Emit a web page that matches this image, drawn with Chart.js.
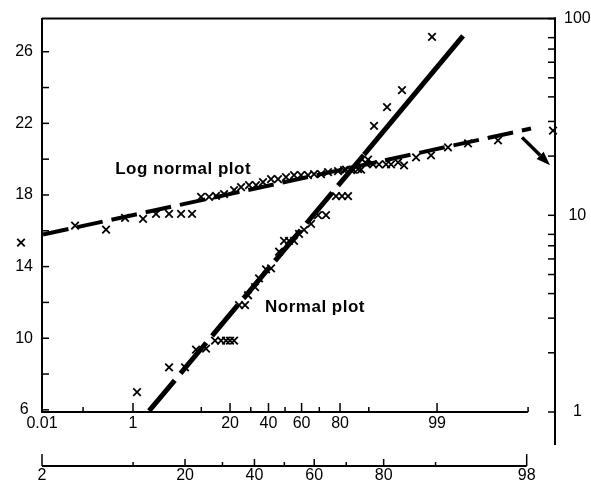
<!DOCTYPE html>
<html><head><meta charset="utf-8">
<script src="https://cdn.jsdelivr.net/npm/chart.js@4/dist/chart.umd.min.js"></script>
<style>html,body{margin:0;padding:0;background:#fff;}canvas{display:block;}</style>
</head><body>
<canvas id="c" width="591" height="480"></canvas>
<script>
// ---- data (x = standard normal score of the plotting position) ----
const probAxisMajor = [0.01, 1, 20, 40, 60, 80, 99];
const probAxisMinor = [0.1, 10, 30, 50, 70, 90];
const probAxisEnd = 99.99;
const probAxis2Major = [2, 20, 40, 60, 80, 98];
const probAxis2Minor = [10, 30, 50, 70, 90];
const leftMajor = [6, 10, 14, 18, 22, 26];
const leftMinor = [8, 12, 16, 20, 24];
const rightMajor = [1, 10, 100];
const rightMinor = [2, 3, 4, 5, 6, 7, 8, 20, 30, 40, 50, 60, 70, 80];

const normalScore = [-2.265,-1.775,-1.530,-1.362,-1.209,-1.071,-0.979,-0.903,-0.842,-0.780,-0.704,-0.612,-0.566,-0.459,-0.398,-0.291,-0.214,-0.092,-0.015,0.061,0.138,0.214,0.291,0.398,0.505,0.627,0.780,0.872,0.964,0.933,1.041,1.163,1.270,1.362,1.561,1.790,2.249];
const normalValue = [6.99,8.37,8.37,9.36,9.42,9.86,9.86,9.86,9.86,9.86,11.85,11.85,12.40,12.85,13.34,13.84,13.90,14.84,15.44,15.44,15.44,15.83,16.05,16.38,16.88,16.88,17.93,17.93,17.93,19.42,19.42,19.42,19.98,21.86,22.91,23.85,26.83];

const logScore = [-4.040,-3.213,-2.739,-2.448,-2.173,-1.974,-1.775,-1.591,-1.423,-1.285,-1.163,-1.056,-0.933,-0.780,-0.673,-0.551,-0.444,-0.337,-0.214,-0.107,0.015,0.138,0.245,0.352,0.444,0.551,0.658,0.811,0.903,1.010,1.117,1.239,1.347,1.438,1.546,1.622,1.729,1.821,2.005,2.234,2.494,2.800,3.259,4.101];
const logValue = [7.27,8.85,8.45,9.71,9.60,10.18,10.18,10.18,10.18,12.40,12.40,12.54,12.83,13.44,13.92,14.25,14.25,14.75,15.27,15.27,15.63,16.00,16.00,16.00,16.19,16.19,16.56,16.76,16.95,16.95,17.15,18.39,18.17,18.17,18.17,18.17,18.60,17.96,19.71,20.17,22.13,23.19,24.01,26.96];

const normalFitScore = [-2.081, 1.209, 2.724];
const normalFitValue = [5.94, 20.25, 26.89];
const logFitScore = [-3.703, 3.764];
const logFitValue = [7.98, 27.6];
const arrowScore = [3.627, 4.055];
const arrowValue = [24.9, 17.97];
const noteTexts = ['Log normal plot', 'Normal plot'];
const noteScore = [-2.60, -0.306];
const noteValue = [19.42, 11.74];

// ---- helpers ----
function probit(p){
 const a=[-3.969683028665376e+01,2.209460984245205e+02,-2.759285104469687e+02,1.383577518672690e+02,-3.066479806614716e+01,2.506628277459239e+00];
 const b=[-5.447609879822406e+01,1.615858368580409e+02,-1.556989798598866e+02,6.680131188771972e+01,-1.328068155288572e+01];
 const c=[-7.784894002430293e-03,-3.223964580411365e-01,-2.400758277161838e+00,-2.549732539343734e+00,4.374664141464968e+00,2.938163982698783e+00];
 const d=[7.784695709041462e-03,3.224671290700398e-01,2.445134137142996e+00,3.754408661907416e+00];
 const pl=0.02425, ph=1-pl; let q,r;
 if(p<pl){q=Math.sqrt(-2*Math.log(p));return (((((c[0]*q+c[1])*q+c[2])*q+c[3])*q+c[4])*q+c[5])/((((d[0]*q+d[1])*q+d[2])*q+d[3])*q+1);}
 if(p<=ph){q=p-0.5;r=q*q;return (((((a[0]*r+a[1])*r+a[2])*r+a[3])*r+a[4])*r+a[5])*q/(((((b[0]*r+b[1])*r+b[2])*r+b[3])*r+b[4])*r+1);}
 q=Math.sqrt(-2*Math.log(1-p));return -(((((c[0]*q+c[1])*q+c[2])*q+c[3])*q+c[4])*q+c[5])/((((d[0]*q+d[1])*q+d[2])*q+d[3])*q+1);
}
const pct = v => probit(v / 100);
const ident = v => v;
function tickBuilder(major, minor, conv){
  return scale => {
    scale.ticks = major.map(v => ({value: conv(v), major: true, raw: v}))
      .concat(minor.map(v => ({value: conv(v), major: false, raw: v})))
      .sort((p, q) => p.value - q.value);
  };
}
function tickLabel(value, index, ticks){
  const t = ticks[index];
  return t && t.major ? String(t.raw) : '';
}
const FONT = '"Liberation Sans", Arial, sans-serif';
const tickFont = {family: FONT, size: 16};
const pts = (xs, ys) => xs.map((x, i) => ({x, y: ys[i]}));

const X1_MIN = pct(0.01), X1_PX = 65.35;
const X2_MIN = pct(2), X2_PX = 118;
const AREA_W = 591 - 42 - 36;
const OUTSIDE_DATASET = 3; // log-normal points include one plotted left of the frame

const frame = {
  id: 'frame',
  beforeDatasetDraw(chart, args){
    if (args.index === OUTSIDE_DATASET) {
      this._saved = chart.chartArea;
      chart.chartArea = Object.assign({}, chart.chartArea, {left: 0, right: chart.width});
    }
  },
  afterDatasetDraw(chart, args){
    if (args.index === OUTSIDE_DATASET && this._saved) { chart.chartArea = this._saved; this._saved = null; }
  },
  afterDraw(chart){
    const {ctx, chartArea: a, scales} = chart;
    const x = scales.x, x2 = scales.x2, y = scales.y, y2 = scales.y2;
    ctx.save();
    ctx.strokeStyle = '#000'; ctx.fillStyle = '#000'; ctx.lineCap = 'butt';
    const ln = (x0, y0, x1, y1, w) => { ctx.lineWidth = w; ctx.beginPath(); ctx.moveTo(x0, y0); ctx.lineTo(x1, y1); ctx.stroke(); };
    // frame top and right axis
    ln(a.left, a.top, a.right + 1, a.top, 2);
    ln(a.right, a.top - 1, a.right, a.bottom + 33, 2);
    // left axis ticks
    for (const t of y.ticks) { const p = y.getPixelForValue(t.value); ln(a.left, p, a.left + 7, p, 1.5); }
    // right axis ticks
    for (const t of y2.ticks) { const p = y2.getPixelForValue(t.value); ln(a.right - 7, p, a.right, p, 1.5); }
    // bottom probability axis 1
    const endPx = x.getPixelForValue(pct(probAxisEnd));
    ln(a.left - 1, a.bottom, endPx, a.bottom, 2);
    for (const t of x.ticks) { const p = x.getPixelForValue(t.value); ln(p, a.bottom, p, a.bottom - (t.major ? 9 : 5), 1.5); }
    // bottom probability axis 2
    const yl = x2.top + 14;
    const s = x2.getPixelForValue(pct(probAxis2Major[0])), e = x2.getPixelForValue(pct(probAxis2Major[probAxis2Major.length - 1]));
    ln(s, yl, e, yl, 2);
    for (const t of x2.ticks) {
      const p = x2.getPixelForValue(t.value);
      const isEnd = t.raw === probAxis2Major[0] || t.raw === probAxis2Major[probAxis2Major.length - 1];
      ln(p, yl, p, yl - (isEnd ? 12 : (t.major ? 7 : 4)), 1.5);
    }
    // arrow
    const ax0 = x.getPixelForValue(arrowScore[0]), ay0 = y2.getPixelForValue(arrowValue[0]);
    const ax1 = x.getPixelForValue(arrowScore[1]), ay1 = y2.getPixelForValue(arrowValue[1]);
    const ang = Math.atan2(ay1 - ay0, ax1 - ax0), hl = 14, hw = 5;
    const bx = ax1 - hl * Math.cos(ang), by = ay1 - hl * Math.sin(ang);
    ln(ax0, ay0, bx, by, 3.5);
    ctx.beginPath();
    ctx.moveTo(ax1, ay1);
    ctx.lineTo(bx + hw * Math.sin(ang), by - hw * Math.cos(ang));
    ctx.lineTo(bx - hw * Math.sin(ang), by + hw * Math.cos(ang));
    ctx.closePath(); ctx.fill();
    // notes
    ctx.font = 'bold 17px ' + FONT;
    if ('letterSpacing' in ctx) ctx.letterSpacing = '0.5px';
    ctx.textAlign = 'left'; ctx.textBaseline = 'middle';
    noteTexts.forEach((t, i) => ctx.fillText(t, x.getPixelForValue(noteScore[i]), y.getPixelForValue(noteValue[i])));
    ctx.restore();
  }
};

new Chart(document.getElementById('c'), {
  type: 'scatter',
  data: {
    datasets: [
      { label: 'Normal plot fit', type: 'line', data: pts(normalFitScore, normalFitValue), xAxisID: 'x', yAxisID: 'y',
        showLine: true, borderColor: '#000', borderWidth: 5, pointRadius: 0, fill: false, tension: 0,
        segment: { borderDash: ctx => ctx.p0DataIndex === 0 ? [40, 9] : [] } },
      { label: 'Log normal plot fit', type: 'line', data: pts(logFitScore, logFitValue), xAxisID: 'x', yAxisID: 'y2',
        showLine: true, borderColor: '#000', borderWidth: 4, borderDash: [26, 9], pointRadius: 0, fill: false, tension: 0 },
      { label: 'Normal plot', data: pts(normalScore, normalValue), xAxisID: 'x', yAxisID: 'y',
        pointStyle: 'crossRot', pointRadius: 5.3, borderColor: '#000', pointBorderWidth: 1.8, clip: false },
      { label: 'Log normal plot', data: pts(logScore, logValue), xAxisID: 'x', yAxisID: 'y2',
        pointStyle: 'crossRot', pointRadius: 5.3, borderColor: '#000', pointBorderWidth: 1.8, clip: false }
    ]
  },
  options: {
    responsive: false, animation: false, devicePixelRatio: 1,
    layout: { padding: { top: 15, left: 0, right: 0, bottom: 0 } },
    plugins: { legend: { display: false }, tooltip: { enabled: false } },
    scales: {
      x: { type: 'linear', position: 'bottom', bounds: 'data', min: X1_MIN, max: X1_MIN + AREA_W / X1_PX,
        afterBuildTicks: tickBuilder(probAxisMajor, probAxisMinor.concat([probAxisEnd]), pct),
        afterFit: s => { s.height = 40; },
        grid: { display: false, drawTicks: false }, border: { display: false },
        ticks: { callback: tickLabel, autoSkip: false, maxRotation: 0, minRotation: 0, padding: 2, color: '#000', font: tickFont } },
      x2: { type: 'linear', position: 'bottom', bounds: 'data', min: X2_MIN, max: X2_MIN + AREA_W / X2_PX,
        afterBuildTicks: tickBuilder(probAxis2Major, probAxis2Minor, pct),
        afterFit: s => { s.height = 28; },
        grid: { display: false, drawTicks: false }, border: { display: false },
        ticks: { callback: tickLabel, autoSkip: false, maxRotation: 0, minRotation: 0, padding: 14, color: '#000', font: tickFont } },
      y: { type: 'linear', position: 'left', bounds: 'data', min: 5.88, max: 27.85,
        afterBuildTicks: tickBuilder(leftMajor, leftMinor, ident),
        afterFit: s => { s.width = 42; },
        grid: { display: false, drawTicks: false }, border: { display: true, color: '#000', width: 2 },
        ticks: { callback: tickLabel, autoSkip: false, crossAlign: 'center', padding: 9, color: '#000', font: tickFont } },
      y2: { type: 'logarithmic', position: 'right', bounds: 'data', min: 1, max: 100,
        afterBuildTicks: tickBuilder(rightMajor, rightMinor, ident),
        afterFit: s => { s.width = 36; },
        grid: { display: false, drawTicks: false }, border: { display: false },
        ticks: { callback: tickLabel, autoSkip: false, crossAlign: 'center', padding: 9, color: '#000', font: tickFont } }
    }
  },
  plugins: [frame]
});
</script></body></html>
